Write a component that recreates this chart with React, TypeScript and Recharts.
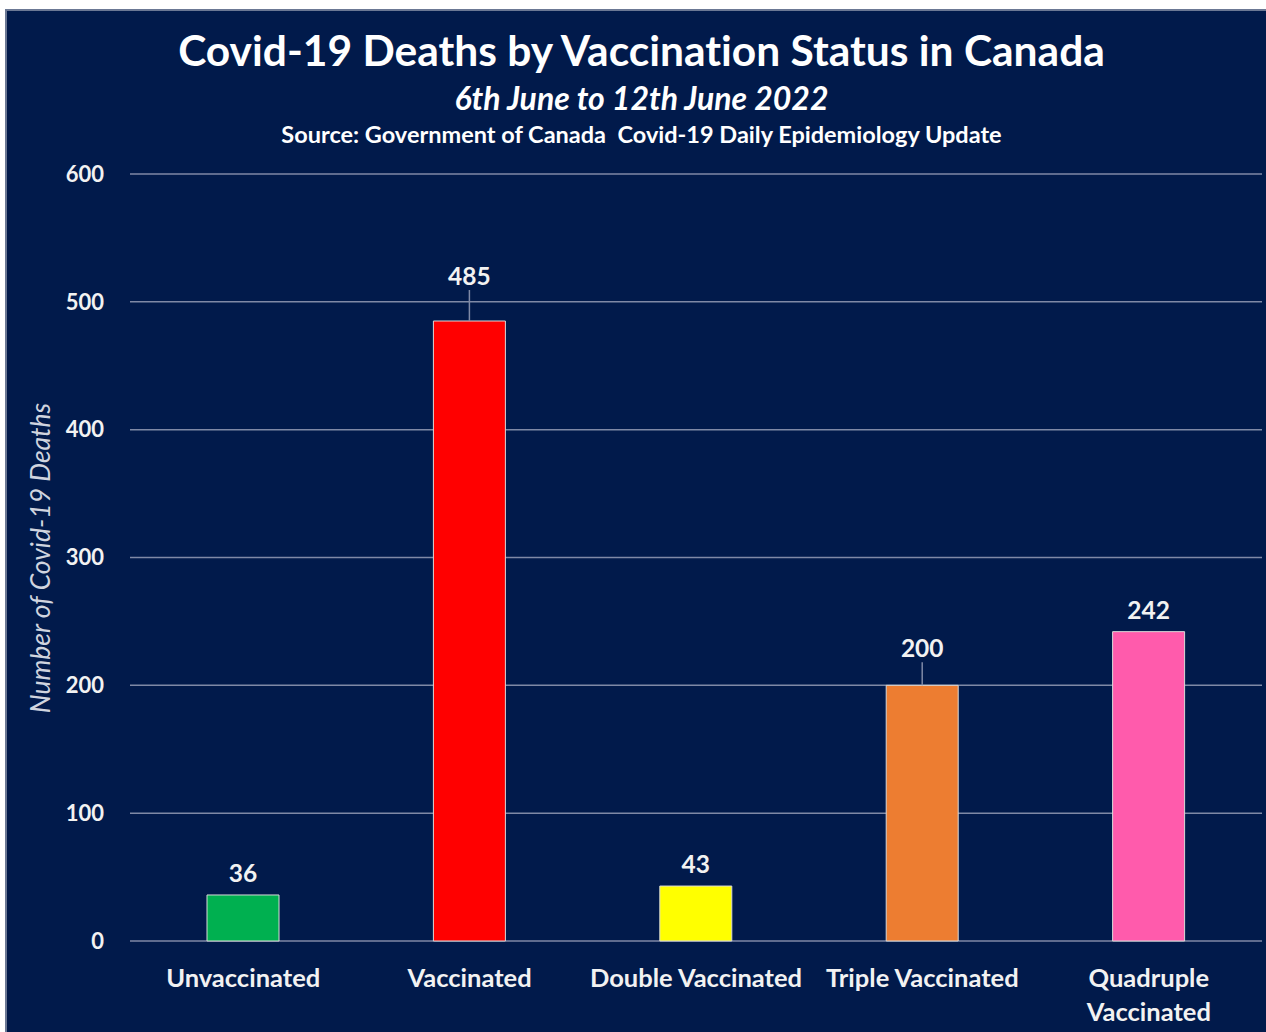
import { BarChart, Bar, XAxis, YAxis, CartesianGrid, Cell, LabelList } from "recharts";

const categories = [
  "Unvaccinated",
  "Vaccinated",
  "Double Vaccinated",
  "Triple Vaccinated",
  "Quadruple Vaccinated",
];
const deaths = [36, 485, 43, 200, 242];
const yTicks = [0, 100, 200, 300, 400, 500, 600];

const barColors = ["#00B050", "#FF0000", "#FFFF00", "#ED7D31", "#FF5BAC"];
// some labels sit higher with a leader line down to the bar
const labelLift = [0, 23, 0, 15, 0];

const NAVY = "#011A4B";
const GRID = "#7F89A6";
const TEXT = "#F2F2F2";
const FONT = "Lato, 'Open Sans', sans-serif";

const data = categories.map((name, i) => ({ name, deaths: deaths[i] }));

const XTick = (props: any) => {
  const { x, y, payload } = props;
  const text: string = payload.value;
  const lines = text.length > 18 ? text.split(" ") : [text];
  return (
    <g>
      {lines.map((line, i) => (
        <text
          key={i}
          x={x}
          y={y + 38 + i * 34}
          textAnchor="middle"
          fill={TEXT}
          fontFamily={FONT}
          fontWeight={700}
          fontSize={25.5}
        >
          {line}
        </text>
      ))}
    </g>
  );
};

const BarValue = (props: any) => {
  const { x, y, width, value, index } = props;
  const cx = x + width / 2;
  const lift = labelLift[index] || 0;
  const base = y - 13 - lift;
  return (
    <g>
      {lift > 0 && (
        <line x1={cx} y1={y} x2={cx} y2={base + 5} stroke={GRID} strokeWidth={1.5} />
      )}
      <text
        x={cx}
        y={base}
        textAnchor="middle"
        fill={TEXT}
        fontFamily={FONT}
        fontWeight={700}
        fontSize={24.5}
      >
        {value}
      </text>
    </g>
  );
};

export default function App() {
  return (
    <div
      style={{
        position: "absolute",
        left: 0,
        top: 0,
        width: 1266,
        height: 1032,
        overflow: "hidden",
        background: "#ffffff",
        fontFamily: FONT,
        fontVariantLigatures: "none",
      }}
    >
      <div
        style={{
          position: "absolute",
          left: 5,
          top: 9,
          width: 1300,
          height: 1100,
          background: NAVY,
          border: "2px solid #6B7894",
        }}
      />
      <div
        style={{
          position: "absolute",
          left: 0,
          top: 22,
          width: 1283,
          textAlign: "center",
          color: "#ffffff",
          fontWeight: 700,
          fontSize: 42.5,
          lineHeight: "56px",
        }}
      >
        Covid-19 Deaths by Vaccination Status in Canada
      </div>
      <div
        style={{
          position: "absolute",
          left: 0,
          top: 78,
          width: 1283,
          textAlign: "center",
          color: "#ffffff",
          fontWeight: 700,
          fontStyle: "italic",
          fontSize: 32,
          lineHeight: "40px",
        }}
      >
        6th June to 12th June 2022
      </div>
      <div
        style={{
          position: "absolute",
          left: 0,
          top: 119,
          width: 1283,
          textAlign: "center",
          color: "#ffffff",
          fontWeight: 700,
          fontSize: 23.5,
          lineHeight: "30px",
          whiteSpace: "pre",
        }}
      >
        {"Source: Government of Canada  Covid-19 Daily Epidemiology Update"}
      </div>
      <div
        style={{
          position: "absolute",
          left: 40 - 200,
          top: 558 - 17,
          width: 400,
          height: 34,
          lineHeight: "34px",
          textAlign: "center",
          transform: "rotate(-90deg)",
          color: "#D0D4DF",
          fontStyle: "italic",
          fontSize: 26.5,
        }}
      >
        Number of Covid-19 Deaths
      </div>
      <div style={{ position: "absolute", left: 0, top: 0 }}>
        <BarChart
          width={1266}
          height={1032}
          data={data}
          margin={{ top: 174, right: 4, bottom: 11, left: 0 }}
        >
          <CartesianGrid horizontal vertical={false} stroke={GRID} strokeWidth={1.5} />
          <XAxis
            dataKey="name"
            axisLine={false}
            tickLine={false}
            height={80}
            interval={0}
            tick={<XTick />}
          />
          <YAxis
            width={130}
            domain={[0, 600]}
            ticks={yTicks}
            axisLine={false}
            tickLine={false}
            tickSize={0}
            tickMargin={26}
            tick={{ fill: TEXT, fontFamily: FONT, fontWeight: 700, fontSize: 22 }}
          />
          <Bar
            dataKey="deaths"
            barSize={72}
            stroke="#D9D9D9"
            strokeWidth={1}
            isAnimationActive={false}
          >
            {data.map((d, i) => (
              <Cell key={d.name} fill={barColors[i]} />
            ))}
            <LabelList dataKey="deaths" content={<BarValue />} />
          </Bar>
        </BarChart>
      </div>
    </div>
  );
}
